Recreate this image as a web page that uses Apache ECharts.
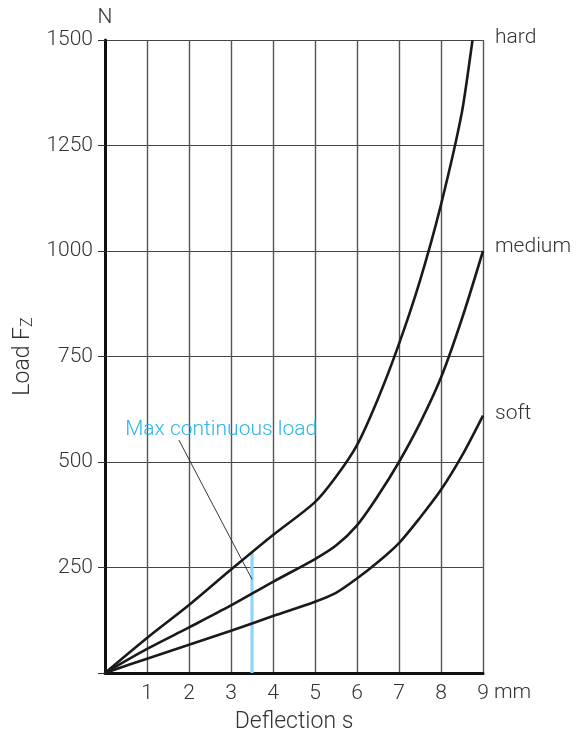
<!DOCTYPE html>
<html>
<head>
<meta charset="utf-8">
<script src="https://cdn.jsdelivr.net/npm/echarts@6/dist/echarts.min.js"></script>
<style>
  html, body { margin: 0; padding: 0; background: #fff; }
  #chart { width: 583px; height: 737px; }
</style>
</head>
<body>
<div id="chart"></div>
<script>
// deflection s (mm) -> load Fz (N)
const hardData = [[0,0],[1,83],[2,161],[3,245],[4,327],[5,405],[5.5,465],[6,540],[6.5,650],[7,780],[7.5,930],[8,1110],[8.5,1330],[8.75,1500]];
const mediumData = [[0,0],[1,57],[2,108],[3,160],[4,216],[5,270],[5.5,302],[6,350],[6.5,420],[7,500],[7.5,592],[8,700],[8.5,840],[9,1000]];
const softData = [[0,0],[1,34],[2,67],[3,100],[4,135],[5,169],[5.5,190],[6,224],[6.5,263],[7,308],[7.5,368],[8,434],[8.5,515],[9,610]];
const maxLoadLine = [[3.5,0],[3.5,285]];
const leaderLine = [[1.76,552],[3.5,222]];
const curveNames = ['hard','medium','soft'];
const curveEndLoads = [1500,1000,610];

const FONT = 'Roboto, "Liberation Sans", sans-serif';
const TXT = '#333';

const chart = echarts.init(document.getElementById('chart'));

const curve = (name, data) => ({
  name, type: 'line', data,
  smooth: 0.3,
  symbol: 'none',
  lineStyle: { color: '#1a1a1a', width: 2.6 },
  z: 5
});

const option = {
  animation: false,
  grid: { left: 105, right: 100, top: 40, bottom: 64, outerBoundsMode: 'none' },
  xAxis: {
    type: 'value', min: 0, max: 9, interval: 1,
    name: 'Deflection s', nameLocation: 'middle', nameGap: 38,
    nameTextStyle: { fontFamily: FONT, fontWeight: 300, fontSize: 23, color: TXT },
    axisLine: { show: true, onZero: false, lineStyle: { color: '#111', width: 3 } },
    axisTick: { show: false },
    axisLabel: {
      margin: 10, fontFamily: FONT, fontWeight: 300, fontSize: 21, color: TXT,
      formatter: v => v === 0 ? '' : String(v)
    },
    splitLine: { show: true, lineStyle: { color: '#555', width: 1.4 } }
  },
  yAxis: {
    type: 'value', min: 0, max: 1500, interval: 250,
    name: 'Load F{sub|Z}', nameLocation: 'middle', nameGap: 68, nameRotate: 90,
    nameTextStyle: {
      fontFamily: FONT, fontWeight: 300, fontSize: 23, color: TXT,
      rich: { sub: { fontFamily: FONT, fontWeight: 300, fontSize: 16, color: TXT, verticalAlign: 'bottom', padding: [9, 0, 0, 0] } }
    },
    axisLine: { show: true, onZero: false, lineStyle: { color: '#111', width: 3 } },
    axisTick: { show: true, length: 7, lineStyle: { color: '#333', width: 1 } },
    axisLabel: {
      margin: 12, fontFamily: FONT, fontWeight: 300, fontSize: 21, color: TXT,
      formatter: v => v === 0 ? '' : String(v)
    },
    splitLine: { show: true, lineStyle: { color: '#444', width: 1.2 } }
  },
  series: [
    {
      name: 'max', type: 'line', data: maxLoadLine, symbol: 'none',
      lineStyle: { color: '#8fd6f5', width: 3.2 }, z: 4
    },
    curve('hard', hardData),
    curve('medium', mediumData),
    curve('soft', softData),
    {
      name: 'leader', type: 'line', data: leaderLine, symbol: 'none',
      lineStyle: { color: '#222', width: 0.9 }, z: 6
    }
  ]
};
chart.setOption(option);

// text placed next to the plot, located through the axes
const px = (x, y) => chart.convertToPixel({ gridIndex: 0 }, [x, y]);
const txt = (x, y, text, extra) => ({
  type: 'text', x, y,
  style: Object.assign({ text, fontFamily: FONT, fontWeight: 300, fontSize: 21, fill: TXT, verticalAlign: 'middle' }, extra || {})
});
const graphics = [];
const labelShift = [-2, -4, -2];
curveNames.forEach((n, i) => {
  const p = px(9, curveEndLoads[i]);
  graphics.push(txt(p[0] + 12, p[1] + labelShift[i], n));
});
const p9 = px(9, 0);
graphics.push(txt(p9[0] + 11, p9[1] + 20, 'mm'));
const pTop = px(0, 1500);
graphics.push(txt(pTop[0], pTop[1] - 22, 'N', { align: 'center' }));
const pNote = px(0.48, 576);
graphics.push(txt(pNote[0], pNote[1], 'Max continuous load', { fill: '#2cb5e6' }));
chart.setOption({ graphic: graphics });
</script>
</body>
</html>
